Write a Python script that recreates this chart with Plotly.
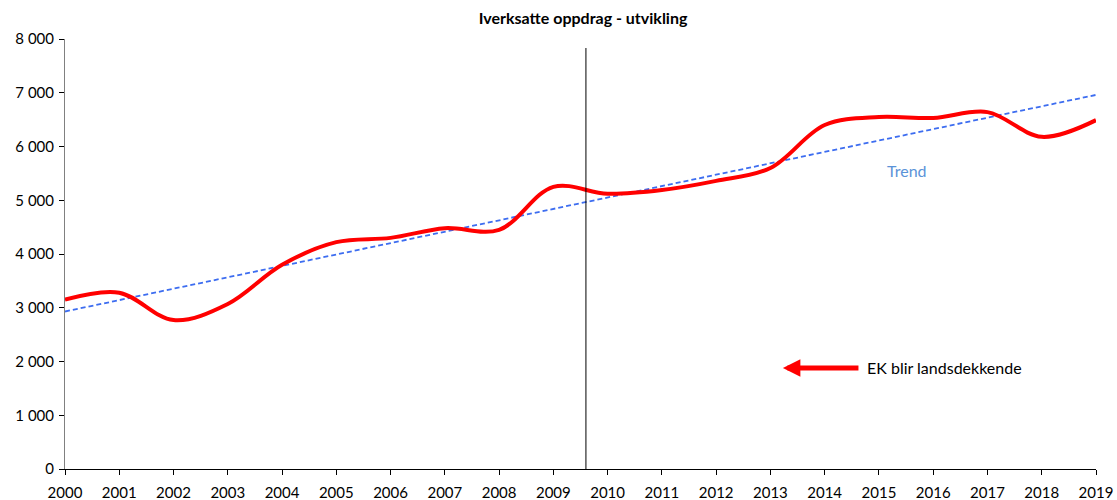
import plotly.graph_objects as go

years = list(range(2000, 2020))
oppdrag = [3150, 3280, 2770, 3070, 3800, 4220, 4300, 4480, 4450, 5250,
           5120, 5190, 5360, 5600, 6400, 6550, 6530, 6640, 6180, 6490]

trend_years = [2000, 2019]
trend_values = [2930, 6960]

y_ticks = [0, 1000, 2000, 3000, 4000, 5000, 6000, 7000, 8000]
y_ticktext = ['0', '1 000', '2 000', '3 000', '4 000', '5 000', '6 000', '7 000', '8 000']

marker_year = 2009.6
arrow_tip = (2013.23, 1880)
arrow_tail_year = 2014.65
label = 'EK blir landsdekkende'

font = 'Lato'

fig = go.Figure()

fig.add_trace(go.Scatter(
	x = trend_years,
	y = trend_values,
	mode = 'lines',
	line = dict(color = '#3d6df0', width = 1.8, dash = '5px,3px'),
	showlegend = False
))

fig.add_trace(go.Scatter(
	x = years,
	y = oppdrag,
	mode = 'lines',
	line = dict(color = '#ff0000', width = 4, shape = 'spline', smoothing = 1),
	showlegend = False
))

# vertical marker line
fig.add_shape(
	type = 'line', xref = 'x', yref = 'paper',
	x0 = marker_year, x1 = marker_year, y0 = 0, y1 = 0.979,
	line = dict(color = 'black', width = 1)
)

# arrow + text
fig.add_annotation(
	x = arrow_tip[0], y = arrow_tip[1],
	ax = arrow_tail_year, ay = arrow_tip[1],
	axref = 'x', ayref = 'y', xref = 'x', yref = 'y',
	text = '', showarrow = True,
	arrowhead = 2, arrowsize = 0.7, arrowwidth = 5, arrowcolor = '#ff0000'
)
fig.add_annotation(
	x = arrow_tail_year + 0.1, y = arrow_tip[1],
	xanchor = 'left', yanchor = 'middle',
	text = label, showarrow = False,
	font = dict(family = font, size = 16, color = 'black')
)
fig.add_annotation(
	x = 2015.52, y = 5545,
	text = 'Trend', showarrow = False,
	font = dict(family = font, size = 16, color = '#5b93d8')
)

fig.update_layout(
	width = 1117,
	height = 500,
	margin = dict(l = 65, r = 21, t = 39, b = 31, autoexpand = False),
	paper_bgcolor = 'white',
	plot_bgcolor = 'white',
	title = dict(
		text = '<b>Iverksatte oppdrag - utvikling</b>',
		x = 0.522, xanchor = 'center', y = 0.963, yanchor = 'middle',
		font = dict(family = font, size = 16, color = 'black')
	),
	font = dict(family = font, size = 15, color = 'black'),
	xaxis = dict(
		range = [2000, 2019], automargin = False,
		tickvals = years,
		ticktext = [str(y) for y in years],
		showgrid = False, zeroline = False,
		showline = True, linecolor = 'black', linewidth = 1,
		ticks = 'outside', ticklen = 5, tickcolor = 'black',
		ticklabelstandoff = 5,
		tickfont = dict(family = font, size = 15)
	),
	yaxis = dict(
		range = [0, 8000], automargin = False,
		tickvals = y_ticks,
		ticktext = y_ticktext,
		showgrid = False, zeroline = False,
		showline = True, linecolor = '#808080', linewidth = 1,
		ticks = 'outside', ticklen = 5, tickcolor = 'black',
		ticklabelstandoff = 2,
		tickfont = dict(family = font, size = 15)
	),
	xaxis2 = dict(
		overlaying = 'x', matches = 'x', range = [2000, 2019], automargin = False,
		tickvals = years, showticklabels = False,
		ticks = 'inside', ticklen = 5, tickcolor = 'black',
		showgrid = False, zeroline = False, showline = False
	),
	yaxis2 = dict(
		overlaying = 'y', matches = 'y', range = [0, 8000], automargin = False,
		tickvals = y_ticks, showticklabels = False,
		ticks = 'inside', ticklen = 5, tickcolor = 'black',
		showgrid = False, zeroline = False, showline = False
	)
)

# page has a default 8px body margin, drop it so the figure sits at 0,0
fig.write_html("out.html", config = {'displayModeBar': False},
	post_script = "document.body.style.margin = '0px';")
